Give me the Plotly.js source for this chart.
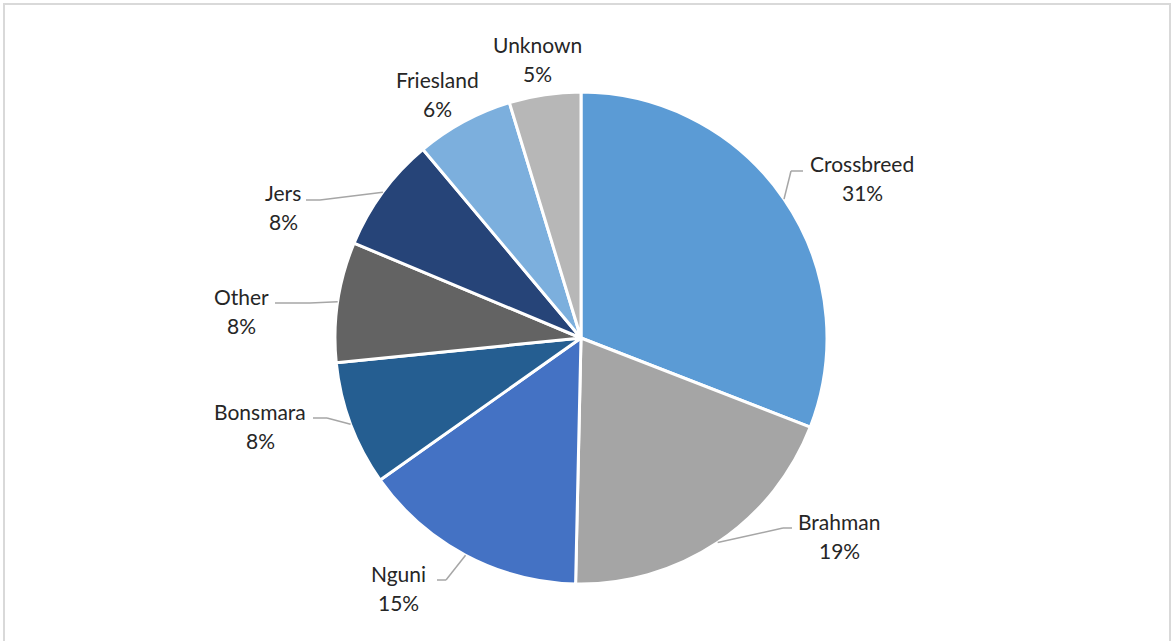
<!DOCTYPE html>
<html>
<head>
<meta charset="utf-8">
<script src="https://cdn.plot.ly/plotly-3.0.1.min.js"></script>
<style>
  html, body { margin: 0; padding: 0; background: #fff; }
  #wrap { position: relative; width: 1172px; height: 641px; overflow: hidden; }
  #chart { position: absolute; left: 0; top: 0; width: 1172px; height: 641px; }
  #frame { position: absolute; left: 3px; top: 3px; width: 1168px; height: 700px;
           box-sizing: border-box; border: 2px solid #d9d9d9; pointer-events: none; }
</style>
</head>
<body>
<div id="wrap">
  <div id="chart"></div>
  <div id="frame"></div>
</div>
<script>
// ---- data ----
const breeds = ["Crossbreed", "Brahman", "Nguni", "Bonsmara", "Other", "Jers", "Friesland", "Unknown"];
const shares = [30.9, 19.45, 14.85, 8.2, 7.9, 7.6, 6.4, 4.7];
const sliceColors = ["#5b9bd5", "#a5a5a5", "#4472c4", "#255e91", "#636363", "#264478", "#7cafdd", "#b7b7b7"];

// ---- layout geometry (pixels) ----
const W = 1172, H = 641;
const M = { l: 81, r: 91, t: 92, b: 57 };
const pw = W - M.l - M.r, ph = H - M.t - M.b;
const cx = M.l + pw / 2, cy = M.t + ph / 2, R = Math.min(pw, ph) / 2;
const px2x = x => (x - M.l) / pw;
const px2y = y => (H - M.b - y) / ph;
const LINE_GAP = 29;

// label placement: text centre, elbow & attach of leader line (null = no leader)
const labelPos = {
  "Crossbreed": { t: [862, 178], elbow: [791, 171], attach: [803, 171] },
  "Brahman":    { t: [839, 536], elbow: [783, 528], attach: [792, 528] },
  "Nguni":      { t: [398, 588], elbow: [446, 580], attach: [437, 580] },
  "Bonsmara":   { t: [260, 426], elbow: [327, 418], attach: [313, 418] },
  "Other":      { t: [241, 311], elbow: [310, 303], attach: [275, 303] },
  "Jers":       { t: [283, 207], elbow: [320, 200], attach: [306, 200] },
  "Friesland":  { t: [437, 94],  elbow: null, attach: null },
  "Unknown":    { t: [537, 59],  elbow: null, attach: null }
};

const total = shares.reduce((a, b) => a + b, 0);
const annotations = [];
const shapes = [];
const leaderStyle = { color: "#a6a6a6", width: 1.5 };
const labelFont = { family: "Lato, 'Open Sans', sans-serif", size: 21, color: "#262626" };
let cum = 0;
breeds.forEach((name, i) => {
  const v = shares[i];
  const mid = 2 * Math.PI * (cum + v / 2) / total;
  cum += v;
  const ex = cx + R * Math.sin(mid), ey = cy - R * Math.cos(mid);
  const lp = labelPos[name];
  const pct = Math.round(100 * v / total) + "%";
  [name, pct].forEach((txt, k) => {
    annotations.push({
      xref: "paper", yref: "paper",
      x: px2x(lp.t[0]), y: px2y(lp.t[1] + (k === 0 ? -LINE_GAP / 2 : LINE_GAP / 2)),
      xanchor: "center", yanchor: "middle", showarrow: false, align: "center",
      text: txt, font: labelFont
    });
  });
  if (lp.elbow) {
    shapes.push({ type: "line", xref: "paper", yref: "paper",
      x0: px2x(ex), y0: px2y(ey), x1: px2x(lp.elbow[0]), y1: px2y(lp.elbow[1]), line: leaderStyle });
    shapes.push({ type: "line", xref: "paper", yref: "paper",
      x0: px2x(lp.elbow[0]), y0: px2y(lp.elbow[1]), x1: px2x(lp.attach[0]), y1: px2y(lp.attach[1]), line: leaderStyle });
  }
});

const trace = {
  type: "pie",
  labels: breeds,
  values: shares,
  sort: false,
  direction: "clockwise",
  rotation: 0,
  textinfo: "none",
  hoverinfo: "label+percent",
  marker: { colors: sliceColors, line: { color: "#ffffff", width: 3 } },
  domain: { x: [0, 1], y: [0, 1] },
  automargin: false
};

const layout = {
  width: W, height: H,
  margin: { l: M.l, r: M.r, t: M.t, b: M.b, pad: 0 },
  paper_bgcolor: "#ffffff",
  showlegend: false,
  annotations: annotations,
  shapes: shapes
};

Plotly.newPlot("chart", [trace], layout, { staticPlot: true, displayModeBar: false });
</script>
</body>
</html>
